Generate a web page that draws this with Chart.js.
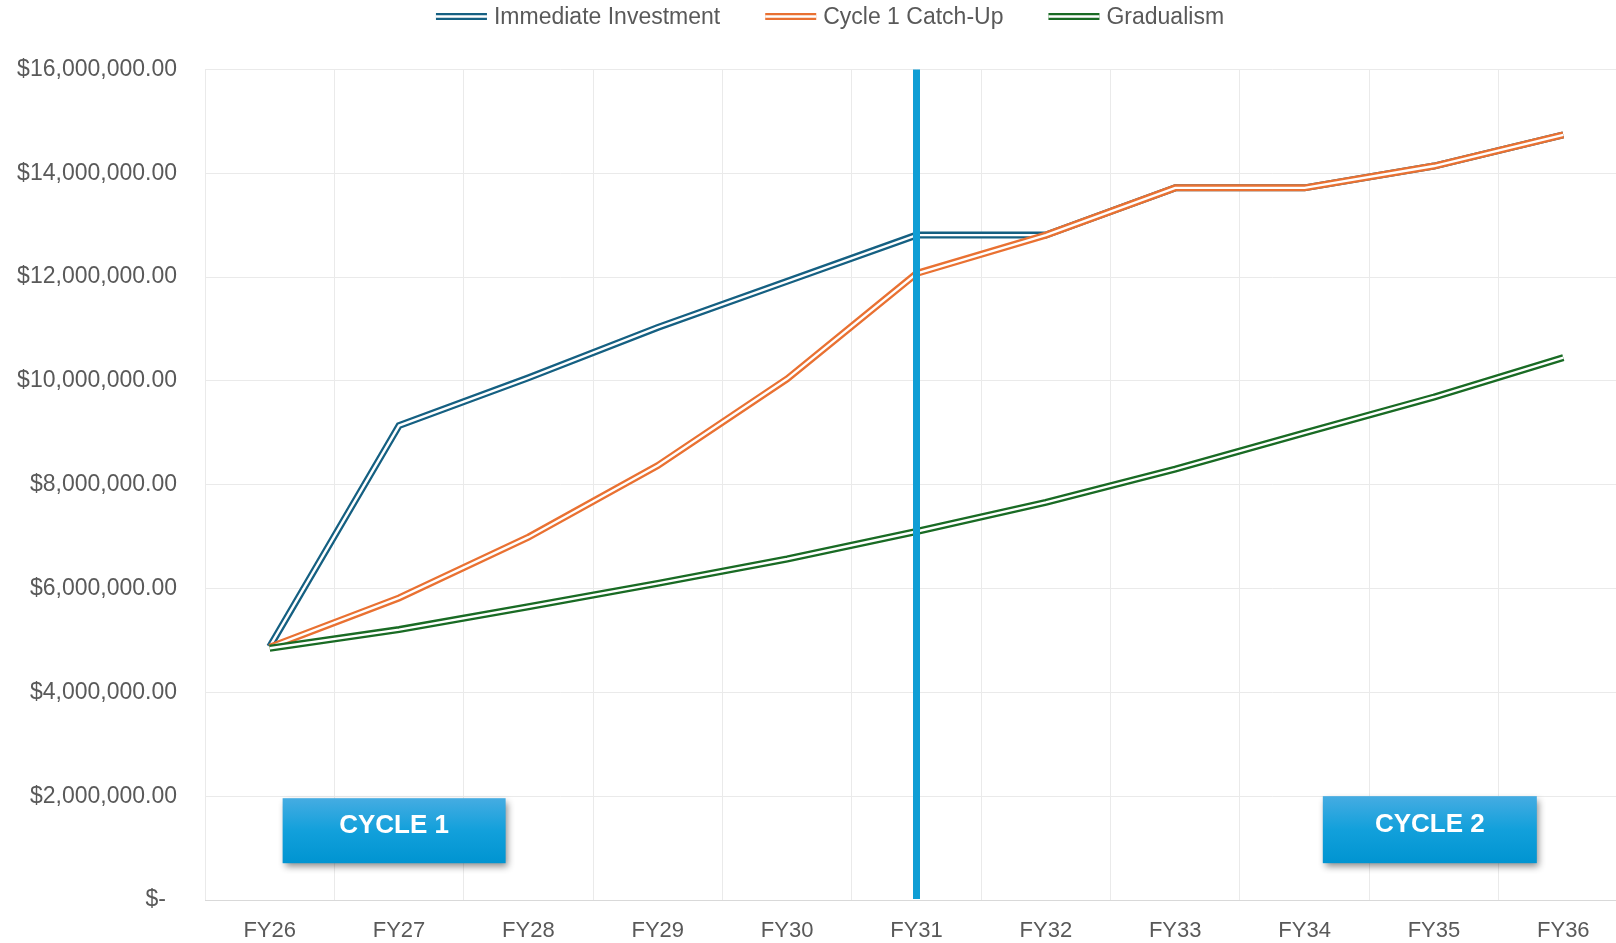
<!DOCTYPE html>
<html>
<head>
<meta charset="utf-8">
<script src="https://cdn.jsdelivr.net/npm/chart.js@4.4.1/dist/chart.umd.min.js"></script>
<style>
  html, body { margin: 0; padding: 0; background: #ffffff; }
  #viewport { width: 1616px; height: 943px; overflow: hidden; position: relative; }
  #wrap { width: 1660px; height: 943px; }
</style>
</head>
<body>
<div id="viewport"><div id="wrap"><canvas id="c" width="1660" height="943"></canvas></div></div>
<script>
// ---------- data ----------
const categories = ['FY26', 'FY27', 'FY28', 'FY29', 'FY30', 'FY31', 'FY32', 'FY33', 'FY34', 'FY35', 'FY36'];
const immediateInvestment = [4880000, 9140000, 10060000, 11030000, 11920000, 12810000, 12810000, 13720000, 13720000, 14140000, 14740000];
const cycle1CatchUp      = [4870000, 5820000, 6990000, 8370000, 10040000, 12070000, 12810000, 13720000, 13720000, 14140000, 14740000];
const gradualism         = [4850000, 5210000, 5650000, 6100000, 6570000, 7100000, 7660000, 8300000, 9000000, 9690000, 10450000];
const seriesNames = ['Immediate Investment', 'Cycle 1 Catch-Up', 'Gradualism'];
const yTickValues = [0, 2000000, 4000000, 6000000, 8000000, 10000000, 12000000, 14000000, 16000000];
const cycleDivider = 'FY31';
const cycleLabels = ['CYCLE 1', 'CYCLE 2'];

// ---------- styles ----------
const colors = ['#156082', '#E97132', '#196B24'];
const textColor = '#595959';
const fontFamily = '"Liberation Sans", Arial, sans-serif';
const cycleBoxes = [
  { text: cycleLabels[0], at: 0.962, value: 1335000, w: 223, h: 65 },
  { text: cycleLabels[1], at: 8.968, value: 1355000, w: 214, h: 67 }
];
const outerWidth = 7.0, innerWidth = 2.4;

function fmtMoney(v) {
  if (v === 0) return '$- \u2009';
  return '$' + v.toLocaleString('en-US', { minimumFractionDigits: 2, maximumFractionDigits: 2 });
}

// white inner stroke -> Excel-like double (compound) line
const doubleLinePlugin = {
  id: 'doubleLine',
  afterDatasetDraw(chart, args) {
    const pts = args.meta.data;
    const ctx = chart.ctx;
    ctx.save();
    ctx.beginPath();
    pts.forEach((p, i) => { if (i === 0) ctx.moveTo(p.x, p.y); else ctx.lineTo(p.x, p.y); });
    ctx.lineWidth = innerWidth;
    ctx.strokeStyle = '#ffffff';
    ctx.lineJoin = 'miter';
    ctx.stroke();
    ctx.restore();
  }
};

const dividerPlugin = {
  id: 'divider',
  afterDatasetsDraw(chart) {
    const xs = chart.scales.x;
    const a = chart.chartArea;
    const x = xs.getPixelForValue(categories.indexOf(cycleDivider));
    const ctx = chart.ctx;
    ctx.save();
    ctx.strokeStyle = '#0F9ED5';
    ctx.lineWidth = 7;
    ctx.beginPath();
    ctx.moveTo(x, a.top);
    ctx.lineTo(x, a.bottom - 1);
    ctx.stroke();
    ctx.restore();
  }
};

const cycleBoxPlugin = {
  id: 'cycleBoxes',
  afterDraw(chart) {
    const xs = chart.scales.x, ys = chart.scales.y;
    const ctx = chart.ctx;
    cycleBoxes.forEach(b => {
      const cx = xs.getPixelForValue(b.at);
      const cy = ys.getPixelForValue(b.value);
      const x0 = cx - b.w / 2, y0 = cy - b.h / 2;
      ctx.save();
      ctx.shadowColor = 'rgba(0,0,0,0.45)';
      ctx.shadowBlur = 7;
      ctx.shadowOffsetX = 2;
      ctx.shadowOffsetY = 4;
      const g = ctx.createLinearGradient(0, y0, 0, y0 + b.h);
      g.addColorStop(0, '#45ACE2');
      g.addColorStop(0.5, '#12A0DB');
      g.addColorStop(1, '#0094D1');
      ctx.fillStyle = g;
      ctx.fillRect(x0, y0, b.w, b.h);
      ctx.restore();
      ctx.save();
      ctx.fillStyle = '#ffffff';
      ctx.font = 'bold 26px ' + fontFamily;
      ctx.textAlign = 'center';
      ctx.textBaseline = 'middle';
      ctx.fillText(b.text, cx, cy - 5);
      ctx.restore();
    });
  }
};

const legendPlugin = {
  id: 'doubleLegend',
  afterDraw(chart) {
    const ctx = chart.ctx;
    const markW = 51, gapText = 7, gapItem = 45, y = 16.5;
    ctx.save();
    ctx.font = '23px ' + fontFamily;
    const widths = chart.data.datasets.map(d => ctx.measureText(d.label).width);
    const total = widths.reduce((s, w) => s + markW + gapText + w, 0) + gapItem * (widths.length - 1);
    let x = chart.width / 2 - total / 2;
    chart.data.datasets.forEach((d, i) => {
      ctx.lineCap = 'butt';
      ctx.strokeStyle = d.borderColor;
      ctx.lineWidth = outerWidth;
      ctx.beginPath(); ctx.moveTo(x, y); ctx.lineTo(x + markW, y); ctx.stroke();
      ctx.strokeStyle = '#ffffff';
      ctx.lineWidth = innerWidth;
      ctx.beginPath(); ctx.moveTo(x, y); ctx.lineTo(x + markW, y); ctx.stroke();
      ctx.fillStyle = textColor;
      ctx.textAlign = 'left';
      ctx.textBaseline = 'middle';
      ctx.fillText(d.label, x + markW + gapText, y + 1);
      x += markW + gapText + widths[i] + gapItem;
    });
    ctx.restore();
  }
};

const seriesValues = [immediateInvestment, cycle1CatchUp, gradualism];

new Chart(document.getElementById('c'), {
  type: 'line',
  data: {
    labels: categories,
    datasets: seriesValues.map((vals, i) => ({
      label: seriesNames[i],
      data: vals,
      borderColor: colors[i],
      backgroundColor: colors[i],
      borderWidth: outerWidth,
      pointRadius: 0,
      pointHoverRadius: 0,
      tension: 0,
      fill: false,
      order: 3 - i
    }))
  },
  options: {
    responsive: false,
    animation: false,
    devicePixelRatio: 1,
    layout: { padding: { top: 69.5, left: 0, right: 32, bottom: 0 } },
    plugins: {
      legend: { display: false },
      tooltip: { enabled: false },
      title: { display: false }
    },
    scales: {
      x: {
        type: 'category',
        offset: true,
        grid: { offset: true, color: '#EAEAEA', lineWidth: 1, drawTicks: false },
        border: { display: true, color: '#D9D9D9', width: 1 },
        ticks: { color: textColor, font: { family: fontFamily, size: 22 }, padding: 18, maxRotation: 0, autoSkip: false },
        afterFit(scale) { scale.height = 43; }
      },
      y: {
        min: 0,
        max: 16000000,
        grid: { color: '#EAEAEA', lineWidth: 1, drawTicks: false },
        border: { display: false },
        afterBuildTicks(scale) { scale.ticks = yTickValues.map(v => ({ value: v })); },
        ticks: {
          color: textColor,
          font: { family: fontFamily, size: 23 },
          padding: 28,
          callback: (v) => fmtMoney(v)
        },
        afterFit(scale) { scale.width = 205; }
      }
    }
  },
  plugins: [doubleLinePlugin, dividerPlugin, cycleBoxPlugin, legendPlugin]
});
</script>
</body>
</html>
